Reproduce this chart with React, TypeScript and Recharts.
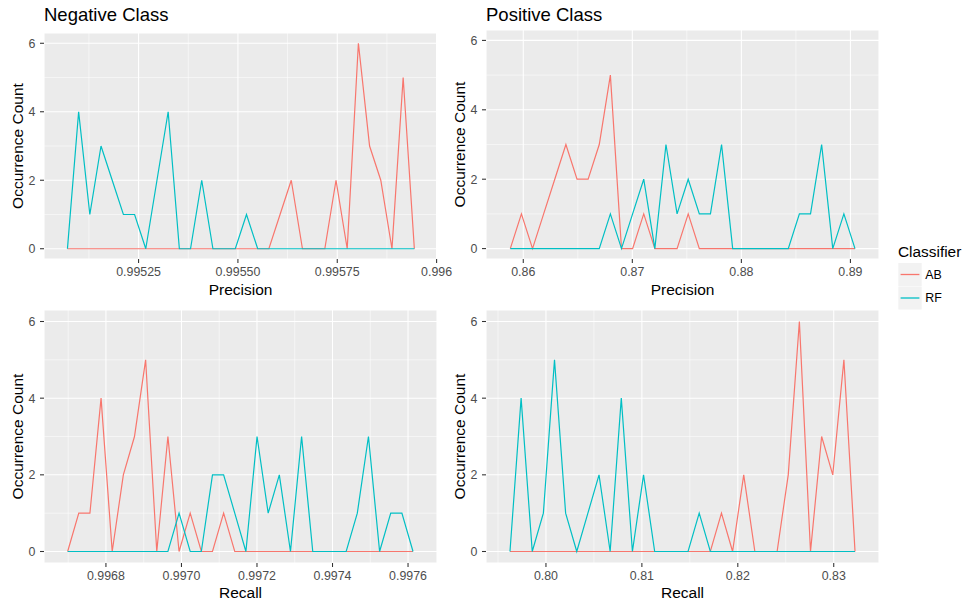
import React from 'react';
import { LineChart, Line, XAxis, YAxis, CartesianGrid } from 'recharts';

const AB_COLOR = '#F8766D';
const RF_COLOR = '#00BFC4';
const FONT = '"Liberation Sans", Arial, Helvetica, sans-serif';

// Frequency polygons: 30 bins plus an empty point at each end (32 points)
const negPrecisionAB = [0, 0, 0, 0, 0, 0, 0, 0, 0, 0, 0, 0, 0, 0, 0, 0, 0, 0, 0, 1, 2, 0, 0, 0, 2, 0, 6, 3, 2, 0, 5, 0];
const negPrecisionRF = [0, 4, 1, 3, 2, 1, 1, 0, 2, 4, 0, 0, 2, 0, 0, 0, 1, 0, 0, 0, 0, 0, 0, 0, 0, 0, 0, 0, 0, 0, 0, 0];
const posPrecisionAB = [0, 1, 0, 1, 2, 3, 2, 2, 3, 5, 0, 0, 1, 0, 0, 0, 1, 0, 0, 0, 0, 0, 0, 0, 0, 0, 0, 0, 0, 0, 0, 0];
const posPrecisionRF = [0, 0, 0, 0, 0, 0, 0, 0, 0, 1, 0, 1, 2, 0, 3, 1, 2, 1, 1, 3, 0, 0, 0, 0, 0, 0, 1, 1, 3, 0, 1, 0];
const negRecallAB = [0, 1, 1, 4, 0, 2, 3, 5, 0, 3, 0, 1, 0, 0, 1, 0, 0, 0, 0, 0, 0, 0, 0, 0, 0, 0, 0, 0, 0, 0, 0, 0];
const negRecallRF = [0, 0, 0, 0, 0, 0, 0, 0, 0, 0, 1, 0, 0, 2, 2, 1, 0, 3, 1, 2, 0, 3, 0, 0, 0, 0, 1, 3, 0, 1, 1, 0];
const posRecallAB = [0, 0, 0, 0, 0, 0, 0, 0, 0, 0, 0, 0, 0, 0, 0, 0, 0, 0, 0, 1, 0, 2, 0, 0, 0, 2, 6, 0, 3, 2, 5, 0];
const posRecallRF = [0, 4, 0, 1, 5, 1, 0, 1, 2, 0, 4, 0, 2, 0, 0, 0, 0, 1, 0, 0, 0, 0, 0, 0, 0, 0, 0, 0, 0, 0, 0, 0];

// first and last bin centre of each metric
const negPrecisionRange: [number, number] = [0.995071, 0.995944];
const posPrecisionRange: [number, number] = [0.85881, 0.89042];
const negRecallRange: [number, number] = [0.9966986, 0.9976132];
const posRecallRange: [number, number] = [0.79625, 0.83222];

// axis limits, ticks and labels
const negPrecisionDomain: [number, number] = [0.995012, 0.996001];
const negPrecisionTicks = [0.99525, 0.9955, 0.99575, 0.996];
const negPrecisionLabels = ['0.99525', '0.99550', '0.99575', '0.996'];
const negPrecisionMinor = [0.995125, 0.995375, 0.995625, 0.995875];

const posPrecisionDomain: [number, number] = [0.856582, 0.892621];
const posPrecisionTicks = [0.86, 0.87, 0.88, 0.89];
const posPrecisionLabels = ['0.86', '0.87', '0.88', '0.89'];
const posPrecisionMinor = [0.865, 0.875, 0.885];

const negRecallDomain: [number, number] = [0.996636, 0.9976767];
const negRecallTicks = [0.9968, 0.997, 0.9972, 0.9974, 0.9976];
const negRecallLabels = ['0.9968', '0.9970', '0.9972', '0.9974', '0.9976'];
const negRecallMinor = [0.9967, 0.9969, 0.9971, 0.9973, 0.9975];

const posRecallDomain: [number, number] = [0.79375, 0.834719];
const posRecallTicks = [0.8, 0.81, 0.82, 0.83];
const posRecallLabels = ['0.80', '0.81', '0.82', '0.83'];
const posRecallMinor = [0.795, 0.805, 0.815, 0.825];

const countDomain: [number, number] = [-0.3, 6.3];
const countTicks = [0, 2, 4, 6];
const countMinor = [1, 3, 5];

const classifiers = ['AB', 'RF'];
const classifierColors = [AB_COLOR, RF_COLOR];

const toPolygon = (range: [number, number], ab: number[], rf: number[]) => {
  const width = (range[1] - range[0]) / (ab.length - 1);
  return ab.map((v, i) => ({ x: range[0] + i * width, AB: v, RF: rf[i] }));
};

interface PanelProps {
  data: { x: number; AB: number; RF: number }[];
  domain: [number, number];
  ticks: number[];
  labels: string[];
  minor: number[];
  xTitle: string;
  left: number;
  top: number;
  width: number;
  height: number;
  marginTop: number;
  xAxisHeight: number;
  titleOffset: number;
}

const tickStyle = { fontSize: 12.4, fill: '#4D4D4D', fontFamily: FONT };
const tickLineStyle = { stroke: '#333333', strokeWidth: 1.07 };
const titleStyle = { fontSize: 15.5, fill: '#000000', fontFamily: FONT };

const Panel: React.FC<PanelProps> = ({ data, domain, ticks, labels, minor, xTitle, left, top, width, height, marginTop, xAxisHeight, titleOffset }) => (
  <div style={{ position: 'absolute', left, top }}>
    <LineChart width={width} height={height} data={data} margin={{ top: marginTop, right: 23, bottom: 0, left: 0 }}>
      <CartesianGrid fill="#EBEBEB" fillOpacity={1} stroke="#FFFFFF" strokeWidth={0.53} verticalValues={minor} horizontalValues={countMinor} />
      <CartesianGrid stroke="#FFFFFF" strokeWidth={1.07} />
      <XAxis
        type="number"
        dataKey="x"
        domain={domain}
        ticks={ticks}
        interval={0}
        allowDataOverflow
        height={xAxisHeight}
        axisLine={false}
        tickSize={4}
        tickMargin={4}
        tick={tickStyle}
        tickLine={tickLineStyle}
        tickFormatter={(v: number) => labels[ticks.indexOf(v)]}
        label={{ value: xTitle, position: 'insideBottom', offset: titleOffset, style: titleStyle }}
      />
      <YAxis
        type="number"
        domain={countDomain}
        ticks={countTicks}
        interval={0}
        allowDataOverflow
        width={44}
        axisLine={false}
        tickSize={4}
        tickMargin={4.5}
        tick={tickStyle}
        tickLine={tickLineStyle}
        label={{ value: 'Occurrence Count', angle: -90, position: 'center', dx: -5, style: { ...titleStyle, textAnchor: 'middle' } }}
      />
      <Line type="linear" dataKey="AB" stroke={AB_COLOR} strokeWidth={1.2} dot={false} isAnimationActive={false} />
      <Line type="linear" dataKey="RF" stroke={RF_COLOR} strokeWidth={1.2} dot={false} isAnimationActive={false} />
    </LineChart>
  </div>
);

const App: React.FC = () => (
  <div style={{ position: 'absolute', left: 0, top: 0, width: 963, height: 605, background: '#FFFFFF', fontFamily: FONT }}>
    <Panel
      data={toPolygon(negPrecisionRange, negPrecisionAB, negPrecisionRF)}
      domain={negPrecisionDomain} ticks={negPrecisionTicks} labels={negPrecisionLabels} minor={negPrecisionMinor}
      xTitle="Precision" left={0} top={0} width={460} height={300} marginTop={33} xAxisHeight={41} titleOffset={5}
    />
    <Panel
      data={toPolygon(posPrecisionRange, posPrecisionAB, posPrecisionRF)}
      domain={posPrecisionDomain} ticks={posPrecisionTicks} labels={posPrecisionLabels} minor={posPrecisionMinor}
      xTitle="Precision" left={442} top={0} width={460} height={300} marginTop={30} xAxisHeight={41} titleOffset={5}
    />
    <Panel
      data={toPolygon(negRecallRange, negRecallAB, negRecallRF)}
      domain={negRecallDomain} ticks={negRecallTicks} labels={negRecallLabels} minor={negRecallMinor}
      xTitle="Recall" left={0} top={300} width={460} height={305} marginTop={10} xAxisHeight={42} titleOffset={7}
    />
    <Panel
      data={toPolygon(posRecallRange, posRecallAB, posRecallRF)}
      domain={posRecallDomain} ticks={posRecallTicks} labels={posRecallLabels} minor={posRecallMinor}
      xTitle="Recall" left={442} top={300} width={460} height={305} marginTop={10} xAxisHeight={42} titleOffset={7}
    />

    {/* panel titles and the shared legend */}
    <svg width={963} height={605} style={{ position: 'absolute', left: 0, top: 0, pointerEvents: 'none' }}>
      <text x={44} y={20.7} fontSize={18.5} fill="#000000" fontFamily={FONT}>Negative Class</text>
      <text x={486} y={20.7} fontSize={18.5} fill="#000000" fontFamily={FONT}>Positive Class</text>
      <text x={898} y={256.7} fontSize={15.4} fill="#000000" fontFamily={FONT}>Classifier</text>
      {classifiers.map((name, i) => (
        <g key={name} transform={`translate(898.3, ${263 + i * 23.5})`}>
          <rect width={23.4} height={23} fill="#F2F2F2" />
          <line x1={2.3} x2={21.1} y1={11.5} y2={11.5} stroke={classifierColors[i]} strokeWidth={1.3} />
          <text x={27} y={15.8} fontSize={12.4} fill="#000000" fontFamily={FONT}>{name}</text>
        </g>
      ))}
    </svg>
  </div>
);

export default App;
